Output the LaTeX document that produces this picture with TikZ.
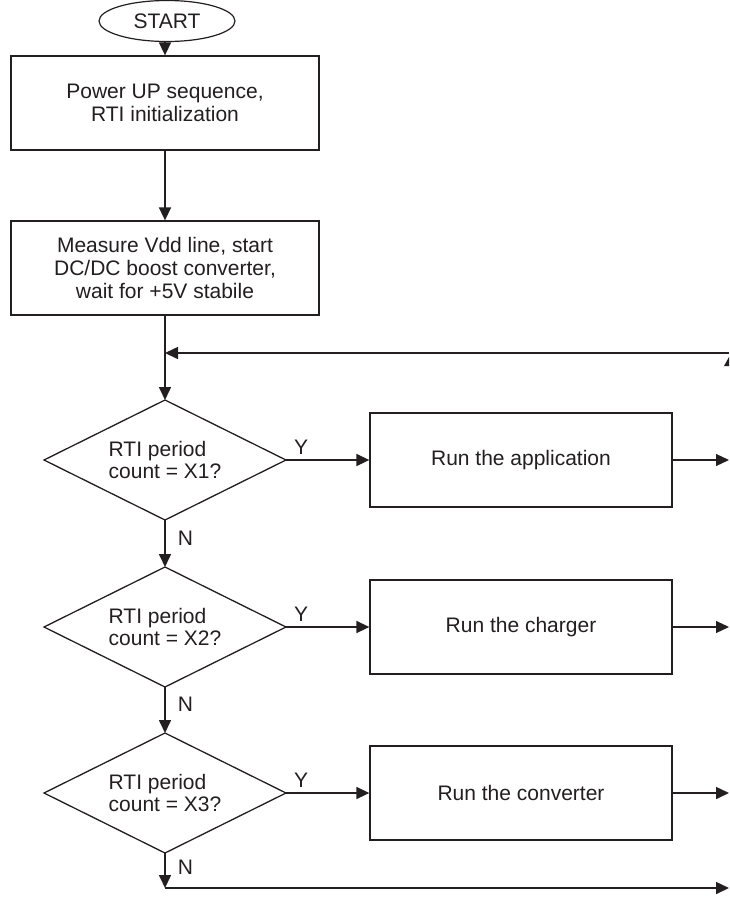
\documentclass[tikz,border=0pt]{standalone}
\usepackage{fontspec}
\setmainfont{Liberation Sans}
\usetikzlibrary{shapes.geometric,arrows.meta}
\definecolor{ink}{HTML}{231F20}
\begin{document}
\begin{tikzpicture}[x=1pt,y=-1pt,
  txt/.style={font=\fontsize{21}{23}\selectfont, text=ink},
  term/.style={ellipse, draw=ink, line width=1.2pt, minimum width=136pt, minimum height=41pt, inner sep=0pt, txt},
  proc/.style={rectangle, draw=ink, line width=1.3pt, minimum width=308pt, minimum height=94pt, inner sep=0pt, align=center, txt},
  runbox/.style={rectangle, draw=ink, line width=1.3pt, minimum width=302pt, minimum height=94pt, inner sep=0pt, txt},
  dec/.style={rectangle, minimum width=242pt, minimum height=120pt, inner sep=0pt, outer sep=0pt, align=left, txt, font=\fontsize{21}{22}\selectfont},
  decline/.style={draw=ink, line width=1.3pt, line join=miter},
  flow/.style={draw=ink, line width=1.6pt, -{Triangle[length=13pt,width=12pt]}},
  thin/.style={draw=ink, line width=1.1pt, -{Triangle[length=13pt,width=12pt]}},
  lab/.style={txt, inner sep=0pt}]
\useasboundingbox[fill=white] (0,0) rectangle (729,903);

\node[term] (start) at (167,21) {START};
\node[proc] (b1) at (165,103) {Power UP sequence,\\RTI initialization};
\node[proc] (b2) at (165,268) {Measure Vdd line, start\\DC/DC boost converter,\\wait for +5V stabile};

\node[dec] (d1) at (165,460) {RTI period\\count = X1?};
\node[dec] (d2) at (165,627) {RTI period\\count = X2?};
\node[dec] (d3) at (165,793) {RTI period\\count = X3?};
\foreach \d in {d1,d2,d3}
  \draw[decline] (\d.north) -- (\d.east) -- (\d.south) -- (\d.west) -- cycle;

\node[runbox] (r1) at (521,460) {Run the application};
\node[runbox] (r2) at (521,627) {Run the charger};
\node[runbox] (r3) at (521,793) {Run the converter};

\coordinate (fb) at (729,353);
\coordinate (o1) at (729,460);
\coordinate (o2) at (729,627);
\coordinate (o3) at (729,793);
\coordinate (bl) at (165,888);
\coordinate (br) at (729,888);

\draw[flow] (start.south -| b1.north) -- (b1.north);
\draw[flow] (b1.south) -- (b2.north);
\draw[flow] (b2.south) -- (d1.north);
\draw[flow] (fb) -- (fb -| d1.north);
\fill[ink] (724,366) -- (729,357) -- (729,366) -- cycle;

\draw[flow] (d1.east) -- (r1.west) node[lab, pos=0.18, above=5pt] (y1) {Y};
\draw[flow] (d2.east) -- (r2.west) node[lab, pos=0.18, above=5pt] (y2) {Y};
\draw[flow] (d3.east) -- (r3.west) node[lab, pos=0.18, above=5pt] (y3) {Y};

\draw[thin] (r1.east) -- (o1);
\draw[thin] (r2.east) -- (o2);
\draw[flow] (r3.east) -- (o3);

\draw[flow] (d1.south) -- (d2.north) node[lab, pos=0.38, right=12pt] (n1) {N};
\draw[flow] (d2.south) -- (d3.north) node[lab, pos=0.38, right=12pt] (n2) {N};
\draw[flow] (d3.south) -- (bl) node[lab, pos=0.42, right=12pt] (n3) {N};
\draw[flow] (bl) -- (br);
\end{tikzpicture}
\end{document}
